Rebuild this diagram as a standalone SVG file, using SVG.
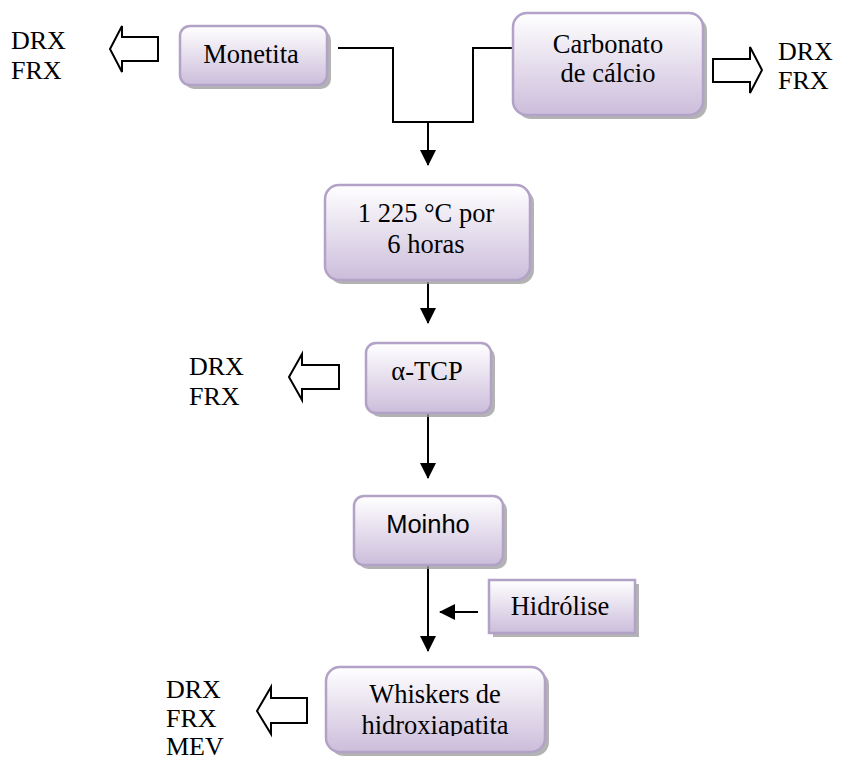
<svg xmlns="http://www.w3.org/2000/svg" width="854" height="762" viewBox="0 0 854 762">
<defs>
<linearGradient id="g" x1="0" y1="0" x2="0" y2="1">
<stop offset="0" stop-color="#ffffff"/>
<stop offset="1" stop-color="#ccbddb"/>
</linearGradient>
<marker id="ah" markerWidth="16" markerHeight="16" refX="15" refY="8" orient="auto" markerUnits="userSpaceOnUse" viewBox="0 0 16 16">
<path d="M0,0 L16,8 L0,16 Z" fill="#000"/>
</marker>
<clipPath id="wclip"><rect x="320" y="660" width="240" height="76"/></clipPath>
</defs>
<style>
.box{fill:url(#g);stroke:#b3a2c7;stroke-width:2.5}
.sh{fill:#9a9a9a;opacity:0.75}
.t{font-family:'Liberation Serif','Times New Roman',Times,serif;font-size:26.5px;fill:#000}
.l{font-family:'Liberation Serif','Times New Roman',Times,serif;font-size:26px;fill:#000}
.s{font-family:'Liberation Sans',Arial,sans-serif;font-size:25.5px;fill:#000}
.c{fill:none;stroke:#000;stroke-width:2}
.ho{fill:#fff;stroke:#000;stroke-width:2;stroke-linejoin:miter}
</style>
<rect width="854" height="762" fill="#fff"/>

<g id="connectors">
<polyline class="c" points="338,48 393,48 393,122 473,122 473,48 515,48"/>
<line class="c" x1="428" y1="122" x2="428" y2="165" marker-end="url(#ah)"/>
<line class="c" x1="428" y1="282" x2="428" y2="323" marker-end="url(#ah)"/>
<line class="c" x1="428" y1="413" x2="428" y2="478" marker-end="url(#ah)"/>
<line class="c" x1="428" y1="565" x2="428" y2="651" marker-end="url(#ah)"/>
<line class="c" x1="478" y1="612" x2="440" y2="612" marker-end="url(#ah)"/>
<polygon class="ho" points="158,37 122,37 122,26 110,49 122,72 122,61 158,61"/>
<polygon class="ho" points="713,59 750,59 750,47 762,70 750,93 750,82 713,82"/>
<polygon class="ho" points="339,365 302,365 302,354 289,377 302,400 302,389 339,389"/>
<polygon class="ho" points="307,698 271,698 271,687 257,711 271,734 271,723 307,723"/>
</g>

<g id="monetita">
<rect class="sh" x="184" y="30" width="147" height="59" rx="10"/>
<rect class="box" x="180" y="26" width="147" height="59" rx="10"/>
<text class="t" x="251" y="63" text-anchor="middle">Monetita</text>
</g>

<g id="carbonato">
<rect class="sh" x="517" y="17" width="190" height="102" rx="14"/>
<rect class="box" x="513" y="13" width="190" height="102" rx="14"/>
<text class="t" x="608" y="53" text-anchor="middle">Carbonato</text>
<text class="t" x="608" y="82" text-anchor="middle">de cálcio</text>
</g>

<g id="forno">
<rect class="sh" x="329" y="189" width="205" height="95" rx="14"/>
<rect class="box" x="325" y="185" width="205" height="95" rx="14"/>
<text class="t" x="426" y="222" text-anchor="middle">1 225 °C por</text>
<text class="t" x="426" y="253" text-anchor="middle">6 horas</text>
</g>

<g id="tcp">
<rect class="sh" x="370" y="347" width="125" height="70" rx="10"/>
<rect class="box" x="366" y="343" width="125" height="70" rx="10"/>
<text class="t" x="427" y="380" text-anchor="middle">α-TCP</text>
</g>

<g id="moinho">
<rect class="sh" x="358" y="500" width="149" height="69" rx="10"/>
<rect class="box" x="354" y="496" width="149" height="69" rx="10"/>
<text class="s" x="428" y="533" text-anchor="middle">Moinho</text>
</g>

<g id="hidrolise">
<rect class="sh" x="493" y="584" width="146" height="53"/>
<rect class="box" x="489" y="580" width="146" height="53"/>
<text class="t" x="560" y="615" text-anchor="middle">Hidrólise</text>
</g>

<g id="whiskers">
<rect class="sh" x="330" y="671" width="219" height="85" rx="14"/>
<rect class="box" x="326" y="667" width="219" height="85" rx="14"/>
<g clip-path="url(#wclip)">
<text class="t" x="435" y="703" text-anchor="middle">Whiskers de</text>
<text class="t" x="435" y="734" text-anchor="middle">hidroxiapatita</text>
</g>
</g>

<g id="labels">
<text class="l" x="11" y="49">DRX</text>
<text class="l" x="11" y="79">FRX</text>
<text class="l" x="778" y="60">DRX</text>
<text class="l" x="778" y="89">FRX</text>
<text class="l" x="189" y="375">DRX</text>
<text class="l" x="189" y="405">FRX</text>
<text class="l" x="166" y="698">DRX</text>
<text class="l" x="166" y="727">FRX</text>
<text class="l" x="166" y="755">MEV</text>
</g>
</svg>
